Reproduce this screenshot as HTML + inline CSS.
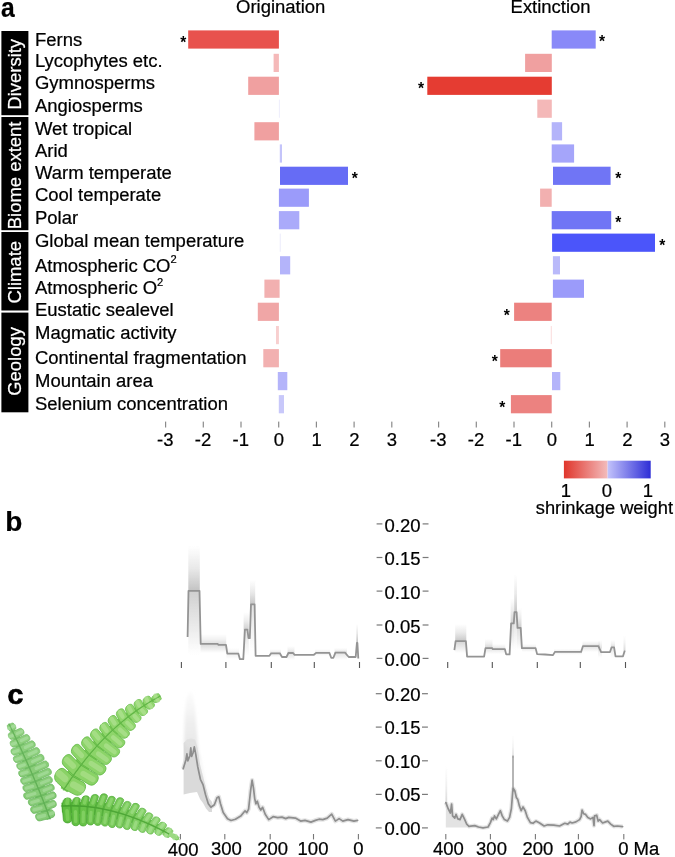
<!DOCTYPE html>
<html lang="en"><head><meta charset="utf-8"><title>Figure</title>
<style>
html,body{margin:0;padding:0;background:#fff;}
body{width:675px;height:857px;overflow:hidden;}
svg{display:block;}
text{font-family:"Liberation Sans",Arial,Helvetica,sans-serif;fill:#000;stroke:#000;stroke-width:0.22px;}
.b{font-weight:bold;}
</style></head><body>
<svg width="675" height="857" viewBox="0 0 675 857">
<defs>
<linearGradient id="lgR" x1="0" x2="1" y1="0" y2="0"><stop offset="0" stop-color="#e0362c"/><stop offset="1" stop-color="#f3bcbc"/></linearGradient>
<linearGradient id="lgB" x1="0" x2="1" y1="0" y2="0"><stop offset="0" stop-color="#c3c3fb"/><stop offset="1" stop-color="#2e2ed6"/></linearGradient>
<linearGradient id="fadeUp" x1="0" x2="0" y1="0" y2="1"><stop offset="0" stop-color="#b4b4b4" stop-opacity="0"/><stop offset="0.5" stop-color="#b4b4b4" stop-opacity="0.35"/><stop offset="1" stop-color="#b0b0b0" stop-opacity="0.9"/></linearGradient>
<linearGradient id="fadeDn" x1="0" x2="0" y1="0" y2="1"><stop offset="0" stop-color="#bcbcbc" stop-opacity="0.9"/><stop offset="0.6" stop-color="#c4c4c4" stop-opacity="0.4"/><stop offset="1" stop-color="#c8c8c8" stop-opacity="0"/></linearGradient>
<filter id="bl1" x="-20%" y="-20%" width="140%" height="140%"><feGaussianBlur stdDeviation="0.7"/></filter>
<filter id="bl2" x="-20%" y="-20%" width="140%" height="140%"><feGaussianBlur stdDeviation="1.4"/></filter>
<filter id="bl0" x="-5%" y="-5%" width="110%" height="110%"><feGaussianBlur stdDeviation="0.35"/></filter>
<linearGradient id="upL" x1="0" x2="0" y1="0" y2="1"><stop offset="0" stop-color="#e4e4e4" stop-opacity="0.1"/><stop offset="0.45" stop-color="#e4e4e4" stop-opacity="0.6"/><stop offset="1" stop-color="#e0e0e0" stop-opacity="0.95"/></linearGradient>
</defs>
<g id="panel-a">
<text class="b" transform="translate(0.9 16.8) scale(0.9 1)" font-size="27.4">a</text>
<text transform="translate(280.7 13.3) scale(1.05 1)" font-size="17.6" text-anchor="middle">Origination</text>
<text transform="translate(550.6 13.3) scale(1.05 1)" font-size="17.6" text-anchor="middle">Extinction</text>
<rect x="1.4" y="31" width="27" height="84.2" fill="#000"/>
<text transform="translate(21.1 74.3) rotate(-90) scale(1.05 1)" font-size="17.6" text-anchor="middle" style="fill:#fff;stroke:#fff">Diversity</text>
<rect x="1.4" y="117" width="27" height="113.2" fill="#000"/>
<text transform="translate(21.1 175.4) rotate(-90) scale(1.05 1)" font-size="17.6" text-anchor="middle" style="fill:#fff;stroke:#fff">Biome extent</text>
<rect x="1.4" y="232" width="27" height="78.5" fill="#000"/>
<text transform="translate(21.1 272.25) rotate(-90) scale(1.05 1)" font-size="17.6" text-anchor="middle" style="fill:#fff;stroke:#fff">Climate</text>
<rect x="1.4" y="312.6" width="27" height="99.7" fill="#000"/>
<text transform="translate(21.1 361.45) rotate(-90) scale(1.05 1)" font-size="17.6" text-anchor="middle" style="fill:#fff;stroke:#fff">Geology</text>
<text transform="translate(35 45.7) scale(1.05 1)" font-size="17.6">Ferns</text>
<text transform="translate(35 66.8) scale(1.05 1)" font-size="17.6">Lycophytes etc.</text>
<text transform="translate(35 89.3) scale(1.05 1)" font-size="17.6">Gymnosperms</text>
<text transform="translate(35 112.4) scale(1.05 1)" font-size="17.6">Angiosperms</text>
<text transform="translate(35 134.7) scale(1.05 1)" font-size="17.6">Wet tropical</text>
<text transform="translate(35 157.2) scale(1.05 1)" font-size="17.6">Arid</text>
<text transform="translate(35 179.1) scale(1.05 1)" font-size="17.6">Warm temperate</text>
<text transform="translate(35 201.3) scale(1.05 1)" font-size="17.6">Cool temperate</text>
<text transform="translate(35 224.2) scale(1.05 1)" font-size="17.6">Polar</text>
<text transform="translate(35 247.2) scale(1.05 1)" font-size="17.6">Global mean temperature</text>
<text transform="translate(35 271.8) scale(1.05 1)" font-size="17.6">Atmospheric CO<tspan dy="-8.4" font-size="10.6">2</tspan></text>
<text transform="translate(35 293.9) scale(1.05 1)" font-size="17.6">Atmospheric O<tspan dy="-8.4" font-size="10.6">2</tspan></text>
<text transform="translate(35 316.2) scale(1.05 1)" font-size="17.6">Eustatic sealevel</text>
<text transform="translate(35 339.1) scale(1.05 1)" font-size="17.6">Magmatic activity</text>
<text transform="translate(35 363.7) scale(1.05 1)" font-size="17.6">Continental fragmentation</text>
<text transform="translate(35 386.8) scale(1.05 1)" font-size="17.6">Mountain area</text>
<text transform="translate(35 409.6) scale(1.05 1)" font-size="17.6">Selenium concentration</text>
<rect x="188.2" y="30.4" width="90.7" height="18.2" fill="#e8524d"/>
<rect x="273.6" y="53.8" width="5.3" height="18.2" fill="#f5b9b9"/>
<rect x="248.2" y="76.7" width="30.7" height="18.2" fill="#f0a0a0"/>
<rect x="278.9" y="99.6" width="0.8" height="18.2" fill="#e9e9fb"/>
<rect x="254.4" y="122.2" width="24.5" height="18.2" fill="#f0a0a0"/>
<rect x="279.8" y="144.4" width="2.2" height="18.2" fill="#c4c4fa"/>
<rect x="280" y="166.7" width="68" height="18.2" fill="#666cf5"/>
<rect x="278.9" y="188.6" width="30" height="18.2" fill="#9b9bfa"/>
<rect x="278.9" y="211.1" width="20.4" height="18.2" fill="#aaaafa"/>
<rect x="279.8" y="233.6" width="0.8" height="18.2" fill="#e6e6fb"/>
<rect x="280" y="256.2" width="10.2" height="18.2" fill="#b4b4fa"/>
<rect x="264.4" y="279.6" width="15.2" height="18.2" fill="#f2b0b0"/>
<rect x="257.8" y="302.7" width="21.1" height="18.2" fill="#f0a6a6"/>
<rect x="276" y="326" width="2.9" height="18.2" fill="#f8cfcf"/>
<rect x="263.3" y="349.1" width="15.6" height="18.2" fill="#f2b0b0"/>
<rect x="277.8" y="372" width="9.5" height="18.2" fill="#b4b4fa"/>
<rect x="278.8" y="395.1" width="5.2" height="18.2" fill="#c8c8fa"/>
<rect x="551.7" y="30.4" width="44" height="18.2" fill="#8989f8"/>
<rect x="525.1" y="53.8" width="26.7" height="18.2" fill="#f0a0a0"/>
<rect x="427.3" y="76.7" width="124.5" height="18.2" fill="#e53c32"/>
<rect x="537.3" y="99.6" width="14.5" height="18.2" fill="#f4b8b8"/>
<rect x="551.7" y="122.2" width="10.4" height="18.2" fill="#b4b4fa"/>
<rect x="551.7" y="144.4" width="22.4" height="18.2" fill="#a5a5fa"/>
<rect x="553" y="166.7" width="57.6" height="18.2" fill="#7075f5"/>
<rect x="540.1" y="188.6" width="11.6" height="18.2" fill="#f2b0b0"/>
<rect x="551.7" y="211.1" width="59.5" height="18.2" fill="#7075f5"/>
<rect x="552.1" y="233.6" width="102.9" height="18.2" fill="#4b55fa"/>
<rect x="552.9" y="256.2" width="7.1" height="18.2" fill="#b9b9fa"/>
<rect x="552.9" y="279.6" width="31.1" height="18.2" fill="#9b9bfa"/>
<rect x="514.1" y="302.7" width="37.6" height="18.2" fill="#ec8280"/>
<rect x="550.8" y="326" width="0.9" height="18.2" fill="#fad7d7"/>
<rect x="500.2" y="349.1" width="51.5" height="18.2" fill="#eb7d7a"/>
<rect x="552" y="372" width="8.3" height="18.2" fill="#b4b4fa"/>
<rect x="510.9" y="395.1" width="40.8" height="18.2" fill="#ec8280"/>
<text class="b" x="183.3" y="47.5" font-size="15.6" text-anchor="middle" style="stroke:none">*</text>
<text class="b" x="354.9" y="184" font-size="15.6" text-anchor="middle" style="stroke:none">*</text>
<text class="b" x="602" y="47.2" font-size="15.6" text-anchor="middle" style="stroke:none">*</text>
<text class="b" x="421.1" y="93.6" font-size="15.6" text-anchor="middle" style="stroke:none">*</text>
<text class="b" x="618.3" y="184" font-size="15.6" text-anchor="middle" style="stroke:none">*</text>
<text class="b" x="618.3" y="228" font-size="15.6" text-anchor="middle" style="stroke:none">*</text>
<text class="b" x="662.3" y="251.2" font-size="15.6" text-anchor="middle" style="stroke:none">*</text>
<text class="b" x="506.7" y="320.5" font-size="15.6" text-anchor="middle" style="stroke:none">*</text>
<text class="b" x="494.9" y="367.3" font-size="15.6" text-anchor="middle" style="stroke:none">*</text>
<text class="b" x="502.3" y="413.2" font-size="15.6" text-anchor="middle" style="stroke:none">*</text>
<rect x="165" y="421.6" width="1.2" height="5.9" fill="#8a8a8a"/>
<text transform="translate(165.3 446.2) scale(1.05 1)" font-size="17.6" text-anchor="middle">-3</text>
<rect x="202.7" y="421.6" width="1.2" height="5.9" fill="#8a8a8a"/>
<text transform="translate(203 446.2) scale(1.05 1)" font-size="17.6" text-anchor="middle">-2</text>
<rect x="240.4" y="421.6" width="1.2" height="5.9" fill="#8a8a8a"/>
<text transform="translate(240.7 446.2) scale(1.05 1)" font-size="17.6" text-anchor="middle">-1</text>
<rect x="278.1" y="421.6" width="1.2" height="5.9" fill="#8a8a8a"/>
<text transform="translate(278.9 446.2) scale(1.05 1)" font-size="17.6" text-anchor="middle">0</text>
<rect x="315.8" y="421.6" width="1.2" height="5.9" fill="#8a8a8a"/>
<text transform="translate(316.6 446.2) scale(1.05 1)" font-size="17.6" text-anchor="middle">1</text>
<rect x="353.5" y="421.6" width="1.2" height="5.9" fill="#8a8a8a"/>
<text transform="translate(354.3 446.2) scale(1.05 1)" font-size="17.6" text-anchor="middle">2</text>
<rect x="391.2" y="421.6" width="1.2" height="5.9" fill="#8a8a8a"/>
<text transform="translate(392 446.2) scale(1.05 1)" font-size="17.6" text-anchor="middle">3</text>
<rect x="438" y="421.6" width="1.2" height="5.9" fill="#8a8a8a"/>
<text transform="translate(438.3 446.2) scale(1.05 1)" font-size="17.6" text-anchor="middle">-3</text>
<rect x="475.7" y="421.6" width="1.2" height="5.9" fill="#8a8a8a"/>
<text transform="translate(476 446.2) scale(1.05 1)" font-size="17.6" text-anchor="middle">-2</text>
<rect x="513.4" y="421.6" width="1.2" height="5.9" fill="#8a8a8a"/>
<text transform="translate(513.7 446.2) scale(1.05 1)" font-size="17.6" text-anchor="middle">-1</text>
<rect x="551.1" y="421.6" width="1.2" height="5.9" fill="#8a8a8a"/>
<text transform="translate(551.9 446.2) scale(1.05 1)" font-size="17.6" text-anchor="middle">0</text>
<rect x="588.8" y="421.6" width="1.2" height="5.9" fill="#8a8a8a"/>
<text transform="translate(589.6 446.2) scale(1.05 1)" font-size="17.6" text-anchor="middle">1</text>
<rect x="626.5" y="421.6" width="1.2" height="5.9" fill="#8a8a8a"/>
<text transform="translate(627.3 446.2) scale(1.05 1)" font-size="17.6" text-anchor="middle">2</text>
<rect x="664.2" y="421.6" width="1.2" height="5.9" fill="#8a8a8a"/>
<text transform="translate(665 446.2) scale(1.05 1)" font-size="17.6" text-anchor="middle">3</text>
</g>
<g id="legend">
<rect x="563.9" y="460.7" width="43.7" height="17.7" fill="url(#lgR)"/>
<rect x="607.6" y="460.7" width="43.1" height="17.7" fill="url(#lgB)"/>
<text transform="translate(565.9 496.9) scale(1.05 1)" font-size="17.6" text-anchor="middle">1</text>
<text transform="translate(607 496.9) scale(1.05 1)" font-size="17.6" text-anchor="middle">0</text>
<text transform="translate(647.8 496.9) scale(1.05 1)" font-size="17.6" text-anchor="middle">1</text>
<text transform="translate(604.4 513.6) scale(1.04 1)" font-size="17.6" text-anchor="middle">shrinkage weight</text>
</g>
<g id="panel-b">
<text class="b" x="5.2" y="531.4" font-size="28">b</text>
<rect x="376.6" y="523.3" width="5.8" height="1.2" fill="#7a7a7a"/>
<rect x="422.6" y="523.3" width="5.9" height="1.2" fill="#7a7a7a"/>
<text transform="translate(402.5 531.5) scale(1.05 1)" font-size="17.6" text-anchor="middle">0.20</text>
<rect x="376.6" y="556.9" width="5.8" height="1.2" fill="#7a7a7a"/>
<rect x="422.6" y="556.9" width="5.9" height="1.2" fill="#7a7a7a"/>
<text transform="translate(402.5 565.1) scale(1.05 1)" font-size="17.6" text-anchor="middle">0.15</text>
<rect x="376.6" y="590.5" width="5.8" height="1.2" fill="#7a7a7a"/>
<rect x="422.6" y="590.5" width="5.9" height="1.2" fill="#7a7a7a"/>
<text transform="translate(402.5 598.7) scale(1.05 1)" font-size="17.6" text-anchor="middle">0.10</text>
<rect x="376.6" y="624.4" width="5.8" height="1.2" fill="#7a7a7a"/>
<rect x="422.6" y="624.4" width="5.9" height="1.2" fill="#7a7a7a"/>
<text transform="translate(402.5 632.6) scale(1.05 1)" font-size="17.6" text-anchor="middle">0.05</text>
<rect x="376.6" y="657.8" width="5.8" height="1.2" fill="#7a7a7a"/>
<rect x="422.6" y="657.8" width="5.9" height="1.2" fill="#7a7a7a"/>
<text transform="translate(402.5 666) scale(1.05 1)" font-size="17.6" text-anchor="middle">0.00</text>
<rect x="180.85" y="662" width="1.1" height="6" fill="#555"/>
<rect x="225.35" y="662" width="1.1" height="6" fill="#555"/>
<rect x="270.75" y="662" width="1.1" height="6" fill="#555"/>
<rect x="313.75" y="662" width="1.1" height="6" fill="#555"/>
<rect x="358.95" y="662" width="1.1" height="6" fill="#555"/>
<rect x="447.15" y="662" width="1.1" height="6" fill="#555"/>
<rect x="491.75" y="662" width="1.1" height="6" fill="#555"/>
<rect x="536.75" y="662" width="1.1" height="6" fill="#555"/>
<rect x="579.75" y="662" width="1.1" height="6" fill="#555"/>
<rect x="624.95" y="662" width="1.1" height="6" fill="#555"/>
<g filter="url(#bl1)">
<rect x="188.3" y="546" width="11.5" height="44.8" fill="url(#fadeUp)" opacity="0.85"/>
<rect x="188.3" y="590.8" width="11.5" height="64.2" fill="url(#fadeDn)" opacity="0.8"/>
<rect x="200.5" y="634" width="25.7" height="10.5" fill="url(#fadeUp)" opacity="0.5"/>
<rect x="200.5" y="644.5" width="25.7" height="8.5" fill="url(#fadeDn)" opacity="0.6"/>
<rect x="226.5" y="648" width="12.5" height="5.7" fill="url(#fadeUp)" opacity="0.3"/>
<rect x="226.5" y="653.7" width="12.5" height="5.3" fill="url(#fadeDn)" opacity="0.3"/>
<rect x="243.6" y="612" width="5.2" height="18" fill="url(#fadeUp)" opacity="0.7"/>
<rect x="243.6" y="630" width="5.2" height="26" fill="url(#fadeDn)" opacity="0.5"/>
<rect x="250" y="580" width="5.2" height="24.3" fill="url(#fadeUp)" opacity="0.8"/>
<rect x="250" y="604.3" width="5.2" height="47.7" fill="url(#fadeDn)" opacity="0.5"/>
<rect x="270" y="649" width="11" height="4.3" fill="url(#fadeUp)" opacity="0.4"/>
<rect x="270" y="653.3" width="11" height="3.7" fill="url(#fadeDn)" opacity="0.4"/>
<rect x="287.5" y="646" width="7" height="7" fill="url(#fadeUp)" opacity="0.5"/>
<rect x="287.5" y="653" width="7" height="7" fill="url(#fadeDn)" opacity="0.5"/>
<rect x="315" y="649" width="15" height="3.9" fill="url(#fadeUp)" opacity="0.3"/>
<rect x="315" y="652.9" width="15" height="3.1" fill="url(#fadeDn)" opacity="0.3"/>
<rect x="334.5" y="648" width="12.5" height="4.6" fill="url(#fadeUp)" opacity="0.5"/>
<rect x="334.5" y="652.6" width="12.5" height="7.4" fill="url(#fadeDn)" opacity="0.5"/>
<rect x="356.3" y="624" width="1.7" height="19" fill="url(#fadeUp)" opacity="0.9"/>
<rect x="356.3" y="643" width="1.7" height="15" fill="url(#fadeDn)" opacity="0.3"/>
<rect x="455.2" y="624" width="11.1" height="17.2" fill="url(#fadeUp)" opacity="0.8"/>
<rect x="455.2" y="641.2" width="11.1" height="11.8" fill="url(#fadeDn)" opacity="0.7"/>
<rect x="485" y="639" width="7.5" height="9.1" fill="url(#fadeUp)" opacity="0.6"/>
<rect x="485" y="648.1" width="7.5" height="5.9" fill="url(#fadeDn)" opacity="0.5"/>
<rect x="492.5" y="644" width="12.8" height="5.2" fill="url(#fadeUp)" opacity="0.5"/>
<rect x="492.5" y="649.2" width="12.8" height="4.8" fill="url(#fadeDn)" opacity="0.4"/>
<rect x="510.6" y="598" width="3.6" height="25.4" fill="url(#fadeUp)" opacity="0.7"/>
<rect x="510.6" y="623.4" width="3.6" height="26.6" fill="url(#fadeDn)" opacity="0.6"/>
<rect x="514.2" y="575" width="2.8" height="37.1" fill="url(#fadeUp)" opacity="0.8"/>
<rect x="514.2" y="612.1" width="2.8" height="37.9" fill="url(#fadeDn)" opacity="0.6"/>
<rect x="517" y="608" width="4.5" height="19.9" fill="url(#fadeUp)" opacity="0.7"/>
<rect x="517" y="627.9" width="4.5" height="22.1" fill="url(#fadeDn)" opacity="0.6"/>
<rect x="522" y="644" width="14" height="4.1" fill="url(#fadeUp)" opacity="0.4"/>
<rect x="522" y="648.1" width="14" height="3.9" fill="url(#fadeDn)" opacity="0.4"/>
<rect x="554" y="648.5" width="28" height="3.4" fill="url(#fadeUp)" opacity="0.3"/>
<rect x="554" y="651.9" width="28" height="3.1" fill="url(#fadeDn)" opacity="0.3"/>
<rect x="582.5" y="641" width="17.5" height="5.2" fill="url(#fadeUp)" opacity="0.5"/>
<rect x="582.5" y="646.2" width="17.5" height="5.8" fill="url(#fadeDn)" opacity="0.5"/>
<rect x="598" y="640" width="4" height="8" fill="url(#fadeUp)" opacity="0.4"/>
<rect x="598" y="648" width="4" height="10" fill="url(#fadeDn)" opacity="0.4"/>
<rect x="610.8" y="640" width="4.2" height="7.4" fill="url(#fadeUp)" opacity="0.5"/>
<rect x="610.8" y="647.4" width="4.2" height="10.6" fill="url(#fadeDn)" opacity="0.4"/>
<rect x="623.5" y="636" width="2" height="14" fill="url(#fadeUp)" opacity="0.5"/>
<rect x="623.5" y="650" width="2" height="6" fill="url(#fadeDn)" opacity="0.3"/>
</g>
<path d="M187.6 637 L188.5 590.8 L199.5 590.8 L200.7 643.9 L217.8 643.9 L218.5 644.9 L226 644.9 L227.3 653.7 L238.4 653.7 L239.9 659.2 L243.3 659.2 L244.9 629.7 L247.4 629.7 L248.5 638.2 L249.8 638.2 L251 604.3 L254.6 604.3 L255.6 655.8 L269.4 655.8 L271.2 653.3 L279.8 653.3 L282 657 L286.5 657 L288.4 653 L293.1 653 L294.6 654.8 L313.9 654.8 L316.1 652.9 L329.4 652.9 L331.2 657.8 L333.4 657.8 L335.4 652.6 L345 652.6 L348.7 657 L355.7 657 L356.9 643 L357.4 643 L358.3 658.5" fill="none" stroke="#949494" stroke-width="1.8" stroke-linejoin="round" filter="url(#bl0)"/>
<path d="M454.4 650.1 L455.6 641.2 L465.9 641.2 L467.1 656.6 L484.1 656.6 L485.5 648.1 L492.1 648.1 L492.8 649.2 L504.9 649.2 L506.2 654.4 L509.6 654.4 L511.1 623.4 L513.8 623.4 L514.5 612.1 L516.6 612.1 L517.5 627.9 L520.7 627.9 L521.9 648.1 L535.6 648.1 L537.1 654.1 L545 654.5 L553 655.1 L554.9 651.9 L581.1 651.9 L582.9 646.2 L598.4 646.2 L601.1 652.1 L610 652.1 L611.5 647.4 L614.1 647.4 L615.5 656.3 L623 656.3 L624.8 650.4" fill="none" stroke="#949494" stroke-width="1.8" stroke-linejoin="round" filter="url(#bl0)"/>
</g>
<g id="panel-c">
<text class="b" x="7.6" y="704.2" font-size="28.5" style="stroke-width:0.7px">c</text>
<rect x="375.8" y="693.1" width="5.9" height="1.2" fill="#7a7a7a"/>
<rect x="422" y="693.1" width="5.9" height="1.2" fill="#7a7a7a"/>
<text transform="translate(402.5 700.7) scale(1.05 1)" font-size="17.6" text-anchor="middle">0.20</text>
<rect x="375.8" y="726.5" width="5.9" height="1.2" fill="#7a7a7a"/>
<rect x="422" y="726.5" width="5.9" height="1.2" fill="#7a7a7a"/>
<text transform="translate(402.5 734.1) scale(1.05 1)" font-size="17.6" text-anchor="middle">0.15</text>
<rect x="375.8" y="760.2" width="5.9" height="1.2" fill="#7a7a7a"/>
<rect x="422" y="760.2" width="5.9" height="1.2" fill="#7a7a7a"/>
<text transform="translate(402.5 767.8) scale(1.05 1)" font-size="17.6" text-anchor="middle">0.10</text>
<rect x="375.8" y="793.8" width="5.9" height="1.2" fill="#7a7a7a"/>
<rect x="422" y="793.8" width="5.9" height="1.2" fill="#7a7a7a"/>
<text transform="translate(402.5 801.4) scale(1.05 1)" font-size="17.6" text-anchor="middle">0.05</text>
<rect x="375.8" y="827.3" width="5.9" height="1.2" fill="#7a7a7a"/>
<rect x="422" y="827.3" width="5.9" height="1.2" fill="#7a7a7a"/>
<text transform="translate(402.5 834.9) scale(1.05 1)" font-size="17.6" text-anchor="middle">0.00</text>
<rect x="179.85" y="834" width="1.1" height="5.4" fill="#777"/>
<rect x="224.25" y="834" width="1.1" height="5.4" fill="#777"/>
<rect x="269.65" y="834" width="1.1" height="5.4" fill="#777"/>
<rect x="312.95" y="834" width="1.1" height="5.4" fill="#777"/>
<rect x="357.85" y="834" width="1.1" height="5.4" fill="#777"/>
<rect x="445.25" y="834" width="1.1" height="5.4" fill="#777"/>
<rect x="489.85" y="834" width="1.1" height="5.4" fill="#777"/>
<rect x="534.85" y="834" width="1.1" height="5.4" fill="#777"/>
<rect x="577.85" y="834" width="1.1" height="5.4" fill="#777"/>
<rect x="623.25" y="834" width="1.1" height="5.4" fill="#777"/>
<text transform="translate(183.2 855.8) scale(1.05 1)" font-size="17.6" text-anchor="middle">400</text>
<text transform="translate(226.3 854.6) scale(1.05 1)" font-size="17.6" text-anchor="middle">300</text>
<text transform="translate(272.6 854.6) scale(1.05 1)" font-size="17.6" text-anchor="middle">200</text>
<text transform="translate(313 854.6) scale(1.05 1)" font-size="17.6" text-anchor="middle">100</text>
<text transform="translate(358.4 854.6) scale(1.05 1)" font-size="17.6" text-anchor="middle">0</text>
<text transform="translate(448.3 854.9) scale(1.05 1)" font-size="17.6" text-anchor="middle">400</text>
<text transform="translate(491.5 854.7) scale(1.05 1)" font-size="17.6" text-anchor="middle">300</text>
<text transform="translate(537.8 854.7) scale(1.05 1)" font-size="17.6" text-anchor="middle">200</text>
<text transform="translate(578.6 854.7) scale(1.05 1)" font-size="17.6" text-anchor="middle">100</text>
<text transform="translate(618.2 854.7) scale(1.05 1)" font-size="17.6">0 Ma</text>
<polyline points="183.2,768.8 185.9,760 186.9,753.9 187.8,760.9 189.9,755.7 190.8,747.8 191.6,756.5 193,753 194.3,746.9 195.7,753.9 197.8,767 200.4,779.3 203,784.6 205.6,795 208.3,803.8 210.9,807.3 214.4,804.7 217,797.7 218.8,796.8 220.5,803.8 223.2,812.6 227.5,818.7 231,820.5 235.4,819.2 240.7,816.1 245.1,810.8 246.8,812.6 248.6,809.1 250.7,789.8 252.1,780.2 253.5,788.1 254.7,798.6 255.9,803.8 257.3,801.2 259.1,807.3 260.8,810 262.6,807.3 265.2,814.3 268.7,819.6 273.1,816.7 277.6,817.7 282,817.1 285.7,818.6 288.7,817.4 295.4,818.1 300.6,821.1 305,820.4 310.9,822.1 315.4,820.4 319.1,819.2 322.8,819.6 327.2,818.1 331.7,814.1 335.4,821.1 339.1,818.6 342.8,821.1 348,819.6 353.9,821.1 357.6,820.4" fill="none" stroke="#d4d4d4" stroke-width="4.4" stroke-linejoin="round" stroke-linecap="butt" filter="url(#bl1)" opacity="0.6"/>
<polyline points="445.9,802.6 448.1,808.5 450.4,813 451.6,804.1 452.6,815.9 454.8,818.1 456,814.4 457.8,818.9 460,819.6 462.2,814.4 464.4,818.9 466.7,824.1 468.9,826.3 474.8,825.6 478.5,827 483,827.8 488.1,827 490.4,822.6 492.1,818.1 493.3,819.6 494.5,815.9 496.3,818.9 498.5,814.4 500.4,810.7 502.2,815.9 504.4,819.6 507.4,821.1 509.6,817.4 511.4,808.5 512.7,792 513.3,788.5 514.8,790.7 516.3,797.4 517.8,799.6 519.3,805.6 521.2,810.7 523,807 525.2,810.7 527.4,817.4 530.4,822.6 533,823.3 535.9,821.1 539.6,823 544.1,826 547.8,824.8 553.7,825.1 559.6,826 564.8,823.3 567.8,824.1 570,822.1 572.2,823 575.9,821.9 579.6,819.6 581.1,816.7 582.1,810 583.6,813.7 585.6,814.4 587.8,817.4 590.7,818.9 593,817.4 594,825.6 594.6,815.9 596.7,815.2 598.1,821.1 599.6,819.6 602.6,823 605.6,821.9 607.8,821.1 610.7,824.1 613.7,826.3 617.4,826 622.6,826.7" fill="none" stroke="#d4d4d4" stroke-width="4.2" stroke-linejoin="round" stroke-linecap="butt" filter="url(#bl1)" opacity="0.6"/>
<g filter="url(#bl1)">
<polygon points="183.6,743 187,739.5 191,738.5 195,739.5 197.5,748 200,764 203,776 206,788 209,798 212,802 212,812 209,812 206,808.5 203,803 200,799 197,792 190,793 183.6,794.5" fill="#d8d8d8" opacity="0.95"/>
</g>
<g filter="url(#bl2)">
<polygon points="184,744 184.6,716 186.5,698 189,692 192.5,692 195,708 196.6,728 198.2,750 199,760" fill="url(#upL)"/>
<polygon points="197,750 201,770 206,790 210,800 204,776 200,756" fill="#e6e6e6" opacity="0.6"/>
</g>
<g filter="url(#bl1)">
<polygon points="445.9,802.6 448.1,808.5 450.4,813 451.6,804.1 452.6,815.9 454.8,818.1 456,814.4 457.8,818.9 460,819.6 462.2,814.4 464.4,818.9 466.7,824.1 467.2,827.6 445.8,827.6" fill="#dedede" opacity="0.85"/>
<rect x="445.4" y="766" width="1.8" height="38" fill="url(#fadeUp)" opacity="0.55"/>
<rect x="512.2" y="736" width="1.6" height="22" fill="url(#fadeUp)" opacity="0.5"/>
</g>
<polyline points="183.2,768.8 185.9,760 186.9,753.9 187.8,760.9 189.9,755.7 190.8,747.8 191.6,756.5 193,753 194.3,746.9 195.7,753.9 197.8,767 200.4,779.3 203,784.6 205.6,795 208.3,803.8 210.9,807.3 214.4,804.7 217,797.7 218.8,796.8 220.5,803.8 223.2,812.6 227.5,818.7 231,820.5 235.4,819.2 240.7,816.1 245.1,810.8 246.8,812.6 248.6,809.1 250.7,789.8 252.1,780.2 253.5,788.1 254.7,798.6 255.9,803.8 257.3,801.2 259.1,807.3 260.8,810 262.6,807.3 265.2,814.3 268.7,819.6 273.1,816.7 277.6,817.7 282,817.1 285.7,818.6 288.7,817.4 295.4,818.1 300.6,821.1 305,820.4 310.9,822.1 315.4,820.4 319.1,819.2 322.8,819.6 327.2,818.1 331.7,814.1 335.4,821.1 339.1,818.6 342.8,821.1 348,819.6 353.9,821.1 357.6,820.4" fill="none" stroke="#8e8e8e" stroke-width="1.7" stroke-linejoin="round" stroke-linecap="round" filter="url(#bl0)"/>
<polyline points="445.9,802.6 448.1,808.5 450.4,813 451.6,804.1 452.6,815.9 454.8,818.1 456,814.4 457.8,818.9 460,819.6 462.2,814.4 464.4,818.9 466.7,824.1 468.9,826.3 474.8,825.6 478.5,827 483,827.8 488.1,827 490.4,822.6 492.1,818.1 493.3,819.6 494.5,815.9 496.3,818.9 498.5,814.4 500.4,810.7 502.2,815.9 504.4,819.6 507.4,821.1 509.6,817.4 511.4,808.5 512.7,792 513.3,788.5 514.8,790.7 516.3,797.4 517.8,799.6 519.3,805.6 521.2,810.7 523,807 525.2,810.7 527.4,817.4 530.4,822.6 533,823.3 535.9,821.1 539.6,823 544.1,826 547.8,824.8 553.7,825.1 559.6,826 564.8,823.3 567.8,824.1 570,822.1 572.2,823 575.9,821.9 579.6,819.6 581.1,816.7 582.1,810 583.6,813.7 585.6,814.4 587.8,817.4 590.7,818.9 593,817.4 594,825.6 594.6,815.9 596.7,815.2 598.1,821.1 599.6,819.6 602.6,823 605.6,821.9 607.8,821.1 610.7,824.1 613.7,826.3 617.4,826 622.6,826.7" fill="none" stroke="#8e8e8e" stroke-width="1.7" stroke-linejoin="round" stroke-linecap="round" filter="url(#bl0)"/>
<rect x="512.35" y="755.6" width="1.3" height="36" fill="#8e8e8e"/>
</g>
<g id="fern" filter="url(#bl0)">
<polygon points="51.13,818.6 51,816.26 50.85,813.9 50.63,811.55 50.35,809.2 50.05,806.83 49.74,804.44 49.15,802.14 48.56,799.82 47.95,797.48 47.32,795.13 46.68,792.76 46.03,790.38 45.25,788.03 44.39,785.69 43.51,783.34 42.62,780.97 41.71,778.59 40.8,776.2 39.86,773.79 38.92,771.37 37.96,768.94 36.89,766.53 35.69,764.16 34.47,761.78 33.24,759.39 31.99,756.99 30.73,754.57 29.46,752.14 28.17,749.7 26.87,747.24 25.51,744.79 23.97,742.41 22.41,740.02 20.84,737.62 19.25,735.21 17.66,732.78 15.84,730.44 13.87,728.16 11.89,725.86 9.9,723.56 8.46,724.26 9.35,727.1 10.23,729.92 11.1,732.73 11.99,735.5 12.94,738.22 13.87,740.93 14.78,743.62 15.69,746.29 16.58,748.95 17.6,751.53 18.66,754.07 19.69,756.6 20.72,759.11 21.73,761.61 22.73,764.09 23.71,766.56 24.68,769.02 25.63,771.46 26.55,773.9 27.44,776.33 28.31,778.74 29.17,781.14 30.01,783.53 30.84,785.9 31.66,788.25 32.46,790.59 33.25,792.92 34.1,795.2 35.05,797.42 35.99,799.62 36.91,801.81 37.82,803.99 38.72,806.16 39.6,808.31 40.51,810.43 41.55,812.48 42.58,814.53 43.59,816.56 45.29,818.32 46.99,820.08" fill="#7ac46d"/>
<path d="M49.76 818.34 L53.04 817.14 C56.53 815.86 53.58 808.63 50.36 809.8 L47.08 811 Z" fill="#85ca75" stroke="#63b358" stroke-width="0.8" stroke-linejoin="round"/>
<path d="M50.16 813.84 L53.02 812.79" stroke="#a3d998" stroke-width="3.51" stroke-linecap="round" fill="none" opacity="0.75"/>
<path d="M49.76 818.34 L40.2 820.79 C36.07 821.85 33.71 814.44 37.52 813.46 L47.08 811 Z" fill="#85ca75" stroke="#63b358" stroke-width="0.8" stroke-linejoin="round"/>
<path d="M44.55 815.47 L38.43 817.04" stroke="#a3d998" stroke-width="3.51" stroke-linecap="round" fill="none" opacity="0.75"/>
<path d="M46.74 810.08 L54.66 807.07 C58.26 805.7 55.47 799.2 52.15 800.47 L44.23 803.48 Z" fill="#86cb75" stroke="#65b459" stroke-width="0.8" stroke-linejoin="round"/>
<path d="M48.69 805.53 L53.82 803.57" stroke="#a4da99" stroke-width="3.18" stroke-linecap="round" fill="none" opacity="0.75"/>
<path d="M46.74 810.08 L34.87 813.29 C31.14 814.29 28.92 807.61 32.36 806.69 L44.23 803.48 Z" fill="#86cb75" stroke="#65b459" stroke-width="0.8" stroke-linejoin="round"/>
<path d="M41.06 807.94 L33.99 809.85" stroke="#a4da99" stroke-width="3.18" stroke-linecap="round" fill="none" opacity="0.75"/>
<path d="M43.89 802.6 L54.57 798.39 C58.07 797.02 55.28 790.73 52.06 792 L41.37 796.2 Z" fill="#86cb76" stroke="#66b55b" stroke-width="0.8" stroke-linejoin="round"/>
<path d="M46.64 797.81 L53.06 795.28" stroke="#a5da9a" stroke-width="3.09" stroke-linecap="round" fill="none" opacity="0.75"/>
<path d="M43.89 802.6 L32.49 805.81 C28.88 806.83 26.64 800.36 29.97 799.42 L41.37 796.2 Z" fill="#86cb76" stroke="#66b55b" stroke-width="0.8" stroke-linejoin="round"/>
<path d="M38.38 800.58 L31.57 802.5" stroke="#a5da9a" stroke-width="3.09" stroke-linecap="round" fill="none" opacity="0.75"/>
<path d="M41.03 795.34 L52.7 790.61 C56.15 789.21 53.33 783.01 50.15 784.3 L38.47 789.03 Z" fill="#87cc77" stroke="#68b65c" stroke-width="0.8" stroke-linejoin="round"/>
<path d="M44.05 790.44 L50.93 787.65" stroke="#a5db9a" stroke-width="3.06" stroke-linecap="round" fill="none" opacity="0.75"/>
<path d="M41.03 795.34 L27.81 799.21 C24.24 800.26 21.96 793.87 25.25 792.9 L38.47 789.03 Z" fill="#87cc77" stroke="#68b65c" stroke-width="0.8" stroke-linejoin="round"/>
<path d="M34.97 793.58 L27.31 795.83" stroke="#a5db9a" stroke-width="3.06" stroke-linecap="round" fill="none" opacity="0.75"/>
<path d="M38.12 788.17 L50.87 782.87 C54.29 781.45 51.42 775.29 48.26 776.61 L35.51 781.91 Z" fill="#88cc78" stroke="#69b75e" stroke-width="0.8" stroke-linejoin="round"/>
<path d="M41.44 783.12 L48.82 780.05" stroke="#a6db9b" stroke-width="3.05" stroke-linecap="round" fill="none" opacity="0.75"/>
<path d="M38.12 788.17 L27.08 791.52 C23.54 792.6 21.2 786.25 24.47 785.26 L35.51 781.91 Z" fill="#88cc78" stroke="#69b75e" stroke-width="0.8" stroke-linejoin="round"/>
<path d="M32.69 786.29 L26.09 788.3" stroke="#a6db9b" stroke-width="3.05" stroke-linecap="round" fill="none" opacity="0.75"/>
<path d="M35.15 781.06 L49.89 774.77 C53.3 773.32 50.38 767.18 47.22 768.52 L32.49 774.81 Z" fill="#89cd79" stroke="#6ab85f" stroke-width="0.8" stroke-linejoin="round"/>
<path d="M39.04 775.71 L47.37 772.16" stroke="#a6dc9c" stroke-width="3.06" stroke-linecap="round" fill="none" opacity="0.75"/>
<path d="M35.15 781.06 L24.85 784.28 C21.31 785.39 18.92 779.05 22.18 778.03 L32.49 774.81 Z" fill="#89cd79" stroke="#6ab85f" stroke-width="0.8" stroke-linejoin="round"/>
<path d="M29.92 779.15 L23.67 781.11" stroke="#a6dc9c" stroke-width="3.06" stroke-linecap="round" fill="none" opacity="0.75"/>
<path d="M32.12 773.95 L47.1 767.42 C50.52 765.93 47.53 759.79 44.37 761.16 L29.39 767.7 Z" fill="#8acd79" stroke="#6cb960" stroke-width="0.8" stroke-linejoin="round"/>
<path d="M36.05 768.52 L44.5 764.84" stroke="#a7dc9c" stroke-width="3.07" stroke-linecap="round" fill="none" opacity="0.75"/>
<path d="M32.12 773.95 L22.93 776.92 C19.38 778.06 16.92 771.72 20.2 770.66 L29.39 767.7 Z" fill="#8acd79" stroke="#6cb960" stroke-width="0.8" stroke-linejoin="round"/>
<path d="M27.19 771.98 L21.46 773.82" stroke="#a7dc9c" stroke-width="3.07" stroke-linecap="round" fill="none" opacity="0.75"/>
<path d="M29.02 766.84 L42.58 760.8 C46 759.27 42.95 753.12 39.79 754.53 L26.22 760.57 Z" fill="#8bce7a" stroke="#6dba61" stroke-width="0.8" stroke-linejoin="round"/>
<path d="M32.49 761.55 L40.26 758.08" stroke="#a7dd9d" stroke-width="3.09" stroke-linecap="round" fill="none" opacity="0.75"/>
<path d="M29.02 766.84 L21.07 769.47 C17.51 770.65 14.99 764.29 18.28 763.2 L26.22 760.57 Z" fill="#8bce7a" stroke="#6dba61" stroke-width="0.8" stroke-linejoin="round"/>
<path d="M24.42 764.77 L19.29 766.47" stroke="#a7dd9d" stroke-width="3.09" stroke-linecap="round" fill="none" opacity="0.75"/>
<path d="M25.84 759.72 L38.31 754.05 C41.74 752.49 38.62 746.31 35.44 747.76 L22.98 753.42 Z" fill="#8cce7b" stroke="#6ebb63" stroke-width="0.8" stroke-linejoin="round"/>
<path d="M28.95 754.51 L36.2 751.21" stroke="#a8dd9d" stroke-width="3.11" stroke-linecap="round" fill="none" opacity="0.75"/>
<path d="M25.84 759.72 L17.75 762.46 C14.18 763.67 11.59 757.28 14.89 756.16 L22.98 753.42 Z" fill="#8cce7b" stroke="#6ebb63" stroke-width="0.8" stroke-linejoin="round"/>
<path d="M21.16 757.68 L15.96 759.44" stroke="#a8dd9d" stroke-width="3.11" stroke-linecap="round" fill="none" opacity="0.75"/>
<path d="M22.58 752.56 L33.79 747.37 C37.25 745.77 34.05 739.57 30.87 741.05 L19.65 746.24 Z" fill="#8ccf7c" stroke="#70bc64" stroke-width="0.8" stroke-linejoin="round"/>
<path d="M25.28 747.48 L31.94 744.39" stroke="#a8de9e" stroke-width="3.14" stroke-linecap="round" fill="none" opacity="0.75"/>
<path d="M22.58 752.56 L15.46 755.04 C11.86 756.28 9.21 749.86 12.53 748.71 L19.65 746.24 Z" fill="#8ccf7c" stroke="#70bc64" stroke-width="0.8" stroke-linejoin="round"/>
<path d="M18.16 750.43 L13.41 752.08" stroke="#a8de9e" stroke-width="3.14" stroke-linecap="round" fill="none" opacity="0.75"/>
<path d="M19.25 745.38 L28.43 741.05 C31.9 739.41 28.63 733.18 25.43 734.69 L16.25 739.02 Z" fill="#8dcf7c" stroke="#71bd65" stroke-width="0.8" stroke-linejoin="round"/>
<path d="M21.31 740.52 L27 737.84" stroke="#a9de9f" stroke-width="3.16" stroke-linecap="round" fill="none" opacity="0.75"/>
<path d="M19.25 745.38 L14.68 746.99 C11.06 748.28 8.35 741.82 11.68 740.64 L16.25 739.02 Z" fill="#8dcf7c" stroke="#71bd65" stroke-width="0.8" stroke-linejoin="round"/>
<path d="M15.55 742.98 L12.02 744.23" stroke="#a9de9f" stroke-width="3.16" stroke-linecap="round" fill="none" opacity="0.75"/>
<path d="M15.84 738.15 L22.51 734.95 C26 733.27 22.67 727.01 19.45 728.55 L12.77 731.75 Z" fill="#8ecf7d" stroke="#72be66" stroke-width="0.8" stroke-linejoin="round"/>
<path d="M17.12 733.61 L21.61 731.45" stroke="#a9de9f" stroke-width="3.19" stroke-linecap="round" fill="none" opacity="0.75"/>
<path d="M15.84 738.15 L12.72 739.28 C9.4 740.48 6.59 733.99 9.65 732.88 L12.77 731.75 Z" fill="#8ecf7d" stroke="#72be66" stroke-width="0.8" stroke-linejoin="round"/>
<path d="M12.61 735.57 L9.89 736.55" stroke="#a9de9f" stroke-width="3.19" stroke-linecap="round" fill="none" opacity="0.75"/>
<path d="M12.35 730.88 L14.86 729.66 C17.53 728.36 14.19 722.02 11.72 723.22 L9.22 724.44 Z" fill="#8fd07e" stroke="#73bf67" stroke-width="0.8" stroke-linejoin="round"/>
<path d="M12.16 727 L14.35 725.93" stroke="#aadfa0" stroke-width="3.22" stroke-linecap="round" fill="none" opacity="0.75"/>
<path d="M12.35 730.88 L10.87 731.42 C9.29 732 6.28 725.52 7.73 724.99 L9.22 724.44 Z" fill="#8fd07e" stroke="#73bf67" stroke-width="0.8" stroke-linejoin="round"/>
<path d="M9.98 727.96 L8.69 728.44" stroke="#aadfa0" stroke-width="3.22" stroke-linecap="round" fill="none" opacity="0.75"/>
<path d="M50 819 Q35 777 9 724" stroke="#5aa94f" stroke-width="1.4" fill="none" opacity="0.55" stroke-linecap="round"/>
<polygon points="67.21,792.37 70.23,789.8 73.25,787.3 76.14,784.78 78.55,781.98 80.97,779.23 83.4,776.53 85.66,773.75 87.82,770.93 90,768.16 92.19,765.43 94.4,762.75 96.62,760.11 98.71,757.4 100.83,754.73 102.96,752.11 105.11,749.52 107.28,746.98 109.41,744.42 111.47,741.83 113.57,739.27 115.68,736.75 117.81,734.27 119.97,731.82 122.19,729.46 124.45,727.16 126.72,724.89 129.02,722.66 131.34,720.47 133.68,718.32 136.04,716.2 138.42,714.12 140.83,712.08 143.26,710.08 145.71,708.12 148.18,706.2 150.68,704.32 153.16,702.4 155.67,700.52 158.2,698.68 160.76,696.89 159.93,695.29 156.89,696.27 153.85,697.3 150.85,698.45 148.01,699.9 145.18,701.4 142.37,702.96 139.57,704.55 136.76,706.17 133.96,707.85 131.18,709.57 128.41,711.34 125.65,713.16 122.93,715.05 120.3,717.09 117.69,719.18 115.09,721.32 112.51,723.5 109.95,725.73 107.4,727.99 104.83,730.28 102.28,732.61 99.75,734.98 97.23,737.41 94.73,739.88 92.24,742.39 89.7,744.9 87.19,747.46 84.68,750.06 82.2,752.72 79.72,755.42 77.3,758.2 75.01,761.12 72.74,764.08 70.49,767.09 68.25,770.14 66.04,773.24 64.27,776.67 62.81,780.33 61.79,784.29 60.8,788.28" fill="#79c959"/>
<path d="M64.17 788.96 L74.66 794.6 C81.9 798.5 89.74 785.7 83.06 782.11 L72.57 776.46 Z" fill="#89d265" stroke="#59b33d" stroke-width="0.8" stroke-linejoin="round"/>
<path d="M73.43 784.79 L81.14 788.94" stroke="#a9de89" stroke-width="6.77" stroke-linecap="round" fill="none" opacity="0.75"/>
<path d="M64.17 788.96 L56.66 782.07 C50.6 776.51 59.46 764.45 65.05 769.57 L72.57 776.46 Z" fill="#89d265" stroke="#59b33d" stroke-width="0.8" stroke-linejoin="round"/>
<path d="M64.96 778.85 L59.12 773.5" stroke="#a9de89" stroke-width="6.77" stroke-linecap="round" fill="none" opacity="0.75"/>
<path d="M73.42 775.26 L88.93 784.48 C94.8 787.96 101.77 777.64 96.35 774.42 L80.84 765.2 Z" fill="#8ad366" stroke="#5bb43f" stroke-width="0.8" stroke-linejoin="round"/>
<path d="M83.18 773.64 L92.79 779.35" stroke="#aadf8a" stroke-width="5.62" stroke-linecap="round" fill="none" opacity="0.75"/>
<path d="M73.42 775.26 L63.82 765.68 C59 760.85 66.79 751.17 71.24 755.62 L80.84 765.2 Z" fill="#8ad366" stroke="#5bb43f" stroke-width="0.8" stroke-linejoin="round"/>
<path d="M73.18 766.08 L66.79 759.7" stroke="#aadf8a" stroke-width="5.62" stroke-linecap="round" fill="none" opacity="0.75"/>
<path d="M81.64 764.15 L97.18 774.27 C102.42 777.68 109.18 768.5 104.35 765.35 L88.81 755.23 Z" fill="#8bd468" stroke="#5db641" stroke-width="0.8" stroke-linejoin="round"/>
<path d="M91.12 763.41 L100.51 769.53" stroke="#abdf8c" stroke-width="5.15" stroke-linecap="round" fill="none" opacity="0.75"/>
<path d="M81.64 764.15 L72.62 754.37 C68.39 749.77 75.88 741.2 79.79 745.44 L88.81 755.23 Z" fill="#8bd468" stroke="#5db641" stroke-width="0.8" stroke-linejoin="round"/>
<path d="M81.56 755.59 L75.67 749.2" stroke="#abdf8c" stroke-width="5.15" stroke-linecap="round" fill="none" opacity="0.75"/>
<path d="M89.6 754.29 L102.97 763.8 C107.75 767.2 114.45 758.85 110.04 755.71 L96.67 746.2 Z" fill="#8cd469" stroke="#5fb742" stroke-width="0.8" stroke-linejoin="round"/>
<path d="M98.26 753.8 L106.44 759.62" stroke="#abdf8d" stroke-width="4.83" stroke-linecap="round" fill="none" opacity="0.75"/>
<path d="M89.6 754.29 L82.6 746.04 C78.81 741.57 86.17 733.82 89.67 737.95 L96.67 746.2 Z" fill="#8cd469" stroke="#5fb742" stroke-width="0.8" stroke-linejoin="round"/>
<path d="M90.17 746.65 L85.41 741.04" stroke="#abdf8d" stroke-width="4.83" stroke-linecap="round" fill="none" opacity="0.75"/>
<path d="M97.45 745.34 L111.37 756.14 C115.77 759.56 122.46 751.9 118.4 748.74 L104.48 737.94 Z" fill="#8dd56a" stroke="#60b844" stroke-width="0.8" stroke-linejoin="round"/>
<path d="M106.16 745.6 L114.47 752.04" stroke="#ace08e" stroke-width="4.59" stroke-linecap="round" fill="none" opacity="0.75"/>
<path d="M97.45 745.34 L91.34 737.5 C87.92 733.11 95.21 726.05 98.37 730.1 L104.48 737.94 Z" fill="#8dd56a" stroke="#60b844" stroke-width="0.8" stroke-linejoin="round"/>
<path d="M98.35 738.2 L94.15 732.82" stroke="#ace08e" stroke-width="4.59" stroke-linecap="round" fill="none" opacity="0.75"/>
<path d="M105.26 737.15 L116.72 746.85 C120.79 750.29 127.5 743.23 123.74 740.05 L112.28 730.35 Z" fill="#8ed56b" stroke="#62b945" stroke-width="0.8" stroke-linejoin="round"/>
<path d="M113.15 737.39 L120.15 743.32" stroke="#ade08f" stroke-width="4.4" stroke-linecap="round" fill="none" opacity="0.75"/>
<path d="M105.26 737.15 L100.48 730.45 C97.38 726.11 104.64 719.65 107.5 723.65 L112.28 730.35 Z" fill="#8ed56b" stroke="#62b945" stroke-width="0.8" stroke-linejoin="round"/>
<path d="M106.62 730.68 L103.18 725.86" stroke="#ade08f" stroke-width="4.4" stroke-linecap="round" fill="none" opacity="0.75"/>
<path d="M113.06 729.63 L121.45 737.36 C125.23 740.84 131.98 734.32 128.49 731.1 L120.1 723.38 Z" fill="#8fd56c" stroke="#64ba46" stroke-width="0.8" stroke-linejoin="round"/>
<path d="M119.97 729.57 L125.39 734.56" stroke="#aee090" stroke-width="4.24" stroke-linecap="round" fill="none" opacity="0.75"/>
<path d="M113.06 729.63 L108.76 723.02 C105.95 718.72 113.21 712.79 115.8 716.77 L120.1 723.38 Z" fill="#8fd56c" stroke="#64ba46" stroke-width="0.8" stroke-linejoin="round"/>
<path d="M114.64 723.47 L111.54 718.71" stroke="#aee090" stroke-width="4.24" stroke-linecap="round" fill="none" opacity="0.75"/>
<path d="M120.89 722.71 L127.56 729.41 C131.07 732.94 137.87 726.92 134.63 723.66 L127.96 716.95 Z" fill="#90d66d" stroke="#65bb48" stroke-width="0.8" stroke-linejoin="round"/>
<path d="M127.23 722.6 L131.73 727.12" stroke="#afe191" stroke-width="4.1" stroke-linecap="round" fill="none" opacity="0.75"/>
<path d="M120.89 722.71 L116.86 715.9 C114.33 711.62 121.59 706.19 123.93 710.14 L127.96 716.95 Z" fill="#90d66d" stroke="#65bb48" stroke-width="0.8" stroke-linejoin="round"/>
<path d="M122.63 716.75 L119.76 711.9" stroke="#afe191" stroke-width="4.1" stroke-linecap="round" fill="none" opacity="0.75"/>
<path d="M128.75 716.34 L133.25 721.28 C136.5 724.86 143.37 719.3 140.36 715.99 L135.86 711.05 Z" fill="#91d66e" stroke="#67bc49" stroke-width="0.8" stroke-linejoin="round"/>
<path d="M134.4 715.95 L137.76 719.65" stroke="#afe192" stroke-width="3.99" stroke-linecap="round" fill="none" opacity="0.75"/>
<path d="M128.75 716.34 L125.89 710.98 C123.61 706.72 130.89 701.76 133 705.7 L135.86 711.05 Z" fill="#91d66e" stroke="#67bc49" stroke-width="0.8" stroke-linejoin="round"/>
<path d="M130.91 711.05 L128.7 706.91" stroke="#afe192" stroke-width="3.99" stroke-linecap="round" fill="none" opacity="0.75"/>
<path d="M136.65 710.49 L139.82 714.3 C142.84 717.93 149.77 712.8 146.98 709.45 L143.81 705.65 Z" fill="#92d76f" stroke="#68bd4b" stroke-width="0.8" stroke-linejoin="round"/>
<path d="M141.87 710 L144.51 713.17" stroke="#b0e193" stroke-width="3.89" stroke-linecap="round" fill="none" opacity="0.75"/>
<path d="M136.65 710.49 L134.43 705.84 C132.39 701.58 139.71 697.06 141.58 700.99 L143.81 705.65 Z" fill="#92d76f" stroke="#68bd4b" stroke-width="0.8" stroke-linejoin="round"/>
<path d="M139.09 705.64 L137.27 701.84" stroke="#b0e193" stroke-width="3.89" stroke-linecap="round" fill="none" opacity="0.75"/>
<path d="M144.61 705.13 L146.88 708.12 C149.3 711.3 156.33 706.63 154.09 703.7 L151.82 700.71 Z" fill="#93d770" stroke="#6abe4c" stroke-width="0.8" stroke-linejoin="round"/>
<path d="M149.45 704.5 L151.43 707.11" stroke="#b1e294" stroke-width="3.81" stroke-linecap="round" fill="none" opacity="0.75"/>
<path d="M144.61 705.13 L143.2 701.82 C141.71 698.3 149.04 694.15 150.42 697.4 L151.82 700.71 Z" fill="#93d770" stroke="#6abe4c" stroke-width="0.8" stroke-linejoin="round"/>
<path d="M147.44 701.07 L146.21 698.18" stroke="#b1e294" stroke-width="3.81" stroke-linecap="round" fill="none" opacity="0.75"/>
<path d="M152.62 700.24 L153.89 702.06 C155.23 704 162.4 699.83 161.16 698.04 L159.89 696.21 Z" fill="#94d871" stroke="#6bbf4d" stroke-width="0.8" stroke-linejoin="round"/>
<path d="M156.94 699.18 L158.04 700.77" stroke="#b2e295" stroke-width="3.74" stroke-linecap="round" fill="none" opacity="0.75"/>
<path d="M152.62 700.24 L151.87 698.22 C151.07 696.06 158.4 692.21 159.14 694.19 L159.89 696.21 Z" fill="#94d871" stroke="#6bbf4d" stroke-width="0.8" stroke-linejoin="round"/>
<path d="M155.84 697.08 L155.18 695.31" stroke="#b2e295" stroke-width="3.74" stroke-linecap="round" fill="none" opacity="0.75"/>
<path d="M63.5 790 Q105 725 160.3 696" stroke="#58ad40" stroke-width="1.4" fill="none" opacity="0.55" stroke-linecap="round"/>
<polygon points="61.94,812.59 64.55,812.7 67.17,812.86 69.8,813.07 72.42,813.32 75.04,813.63 77.67,813.98 80.32,814.02 82.98,814.1 85.66,814.24 88.36,814.42 91.07,814.65 93.79,814.93 96.54,815.26 99.29,815.63 102.06,816.06 104.86,816.49 107.68,816.95 110.51,817.47 113.36,818.04 116.23,818.66 119.11,819.33 122.03,819.97 124.98,820.64 127.95,821.37 130.94,822.15 133.94,822.98 136.97,823.86 140.01,824.8 143.06,825.8 146.13,826.86 149.22,827.96 152.33,829.12 155.45,830.34 158.64,831.49 161.87,832.68 165.11,833.91 168.37,835.21 171.63,836.59 174.91,838.04 178.2,839.54 178.6,838.86 175.73,836.61 172.86,834.4 170,832.24 167.13,830.12 164.24,828.08 161.36,826.08 158.48,824.12 155.49,822.43 152.48,820.84 149.47,819.3 146.47,817.82 143.48,816.35 140.5,814.92 137.53,813.54 134.56,812.22 131.59,810.94 128.57,809.84 125.57,808.79 122.57,807.8 119.58,806.86 116.59,805.96 113.61,805.12 110.64,804.3 107.68,803.53 104.73,802.8 101.78,802.13 98.76,801.94 95.76,801.79 92.79,801.7 89.83,801.66 86.89,801.67 83.97,801.74 81.07,801.86 78.2,802.03 75.35,802.03 72.51,802.08 69.68,802.19 66.87,802.34 64.07,802.55 61.29,802.81" fill="#68bf4c"/>
<path d="M62.26 805.95 L63.38 819.76 C63.75 824.28 72.03 823.66 71.69 819.49 L70.56 805.68 Z" fill="#5fbd3f" stroke="#40a02a" stroke-width="0.8" stroke-linejoin="round"/>
<path d="M67.04 810.94 L67.72 819.23" stroke="#80d15f" stroke-width="3.74" stroke-linecap="round" fill="none" opacity="0.75"/>
<path d="M62.26 805.95 L63.02 801.39 C63.77 796.92 72.02 796.99 71.33 801.12 L70.56 805.68 Z" fill="#5fbd3f" stroke="#40a02a" stroke-width="0.8" stroke-linejoin="round"/>
<path d="M67.03 803.35 L67.67 799.51" stroke="#80d15f" stroke-width="3.74" stroke-linecap="round" fill="none" opacity="0.75"/>
<path d="M71.61 805.68 L72 822.7 C72.1 826.74 79.48 826.62 79.39 822.9 L79 805.87 Z" fill="#63c044" stroke="#44a22d" stroke-width="0.8" stroke-linejoin="round"/>
<path d="M75.49 811.77 L75.71 821.43" stroke="#85d364" stroke-width="3.33" stroke-linecap="round" fill="none" opacity="0.75"/>
<path d="M71.61 805.68 L72.87 800.14 C73.77 796.21 81.09 796.71 80.26 800.34 L79 805.87 Z" fill="#63c044" stroke="#44a22d" stroke-width="0.8" stroke-linejoin="round"/>
<path d="M75.93 803.16 L76.87 799.05" stroke="#85d364" stroke-width="3.33" stroke-linecap="round" fill="none" opacity="0.75"/>
<path d="M79.98 805.93 L79.48 822.9 C79.37 826.78 86.46 827.05 86.57 823.47 L87.07 806.49 Z" fill="#68c248" stroke="#47a530" stroke-width="0.8" stroke-linejoin="round"/>
<path d="M83.37 812.16 L83.09 821.74" stroke="#88d469" stroke-width="3.2" stroke-linecap="round" fill="none" opacity="0.75"/>
<path d="M79.98 805.93 L82.15 798.29 C83.21 794.56 90.21 795.4 89.23 798.85 L87.07 806.49 Z" fill="#68c248" stroke="#47a530" stroke-width="0.8" stroke-linejoin="round"/>
<path d="M84.44 803.02 L85.87 797.97" stroke="#88d469" stroke-width="3.2" stroke-linecap="round" fill="none" opacity="0.75"/>
<path d="M88.02 806.59 L86.83 821.75 C86.53 825.54 93.47 826.14 93.75 822.64 L94.94 807.48 Z" fill="#6cc44d" stroke="#4aa733" stroke-width="0.8" stroke-linejoin="round"/>
<path d="M91.07 812.42 L90.39 821.1" stroke="#8cd56e" stroke-width="3.14" stroke-linecap="round" fill="none" opacity="0.75"/>
<path d="M88.02 806.59 L91.37 796.66 C92.59 793.05 99.42 794.22 98.29 797.55 L94.94 807.48 Z" fill="#6cc44d" stroke="#4aa733" stroke-width="0.8" stroke-linejoin="round"/>
<path d="M92.78 803.19 L94.84 797.09" stroke="#8cd56e" stroke-width="3.14" stroke-linecap="round" fill="none" opacity="0.75"/>
<path d="M95.87 807.62 L94.07 822.02 C93.6 825.76 100.45 826.68 100.88 823.22 L102.68 808.82 Z" fill="#70c551" stroke="#4eaa36" stroke-width="0.8" stroke-linejoin="round"/>
<path d="M98.64 813.37 L97.6 821.67" stroke="#90d772" stroke-width="3.11" stroke-linecap="round" fill="none" opacity="0.75"/>
<path d="M95.87 807.62 L100.45 795.89 C101.82 792.37 108.52 793.84 107.26 797.09 L102.68 808.82 Z" fill="#70c551" stroke="#4eaa36" stroke-width="0.8" stroke-linejoin="round"/>
<path d="M100.98 803.86 L103.68 796.93" stroke="#90d772" stroke-width="3.11" stroke-linecap="round" fill="none" opacity="0.75"/>
<path d="M103.61 809.01 L101.31 822.58 C100.68 826.3 107.46 827.5 108.04 824.08 L110.34 810.5 Z" fill="#74c755" stroke="#51ac39" stroke-width="0.8" stroke-linejoin="round"/>
<path d="M106.15 814.65 L104.81 822.54" stroke="#93d877" stroke-width="3.11" stroke-linecap="round" fill="none" opacity="0.75"/>
<path d="M103.61 809.01 L108.36 798.22 C109.88 794.77 116.5 796.53 115.1 799.71 L110.34 810.5 Z" fill="#74c755" stroke="#51ac39" stroke-width="0.8" stroke-linejoin="round"/>
<path d="M108.76 805.69 L111.61 799.24" stroke="#93d877" stroke-width="3.11" stroke-linecap="round" fill="none" opacity="0.75"/>
<path d="M111.26 810.72 L108.47 823.85 C107.69 827.55 114.43 829.04 115.16 825.63 L117.94 812.49 Z" fill="#77c959" stroke="#54ae3c" stroke-width="0.8" stroke-linejoin="round"/>
<path d="M113.59 816.37 L111.96 824.04" stroke="#96d97b" stroke-width="3.11" stroke-linecap="round" fill="none" opacity="0.75"/>
<path d="M111.26 810.72 L116.79 799.47 C118.45 796.08 125.01 798.11 123.47 801.24 L117.94 812.49 Z" fill="#77c959" stroke="#54ae3c" stroke-width="0.8" stroke-linejoin="round"/>
<path d="M116.65 807.42 L119.92 800.76" stroke="#96d97b" stroke-width="3.11" stroke-linecap="round" fill="none" opacity="0.75"/>
<path d="M118.85 812.75 L115.97 824.12 C115.04 827.8 121.76 829.56 122.62 826.16 L125.5 814.79 Z" fill="#7bcb5d" stroke="#57b03f" stroke-width="0.8" stroke-linejoin="round"/>
<path d="M121.1 818 L119.37 824.82" stroke="#9adb7f" stroke-width="3.13" stroke-linecap="round" fill="none" opacity="0.75"/>
<path d="M118.85 812.75 L124.1 803.05 C125.9 799.71 132.41 802.01 130.74 805.09 L125.5 814.79 Z" fill="#7bcb5d" stroke="#57b03f" stroke-width="0.8" stroke-linejoin="round"/>
<path d="M124.17 810.06 L127.35 804.17" stroke="#9adb7f" stroke-width="3.13" stroke-linecap="round" fill="none" opacity="0.75"/>
<path d="M126.41 815.09 L123.34 825.54 C122.27 829.21 128.97 831.24 129.96 827.84 L133.03 817.4 Z" fill="#7fcd61" stroke="#5ab241" stroke-width="0.8" stroke-linejoin="round"/>
<path d="M128.55 820.2 L126.68 826.57" stroke="#9ddc84" stroke-width="3.16" stroke-linecap="round" fill="none" opacity="0.75"/>
<path d="M126.41 815.09 L132.4 804.92 C134.34 801.62 140.82 804.18 139.02 807.22 L133.03 817.4 Z" fill="#7fcd61" stroke="#5ab241" stroke-width="0.8" stroke-linejoin="round"/>
<path d="M131.97 812.4 L135.56 806.3" stroke="#9ddc84" stroke-width="3.16" stroke-linecap="round" fill="none" opacity="0.75"/>
<path d="M133.93 817.73 L131.08 826.33 C129.86 830 136.55 832.28 137.68 828.89 L140.53 820.29 Z" fill="#82cf65" stroke="#5cb544" stroke-width="0.8" stroke-linejoin="round"/>
<path d="M136.09 822.41 L134.28 827.89" stroke="#a0dd88" stroke-width="3.19" stroke-linecap="round" fill="none" opacity="0.75"/>
<path d="M133.93 817.73 L139.07 809.67 C141.14 806.41 147.59 809.22 145.67 812.23 L140.53 820.29 Z" fill="#82cf65" stroke="#5cb544" stroke-width="0.8" stroke-linejoin="round"/>
<path d="M139.25 815.81 L142.49 810.74" stroke="#a0dd88" stroke-width="3.19" stroke-linecap="round" fill="none" opacity="0.75"/>
<path d="M141.43 820.66 L138.71 828.04 C137.35 831.71 144.05 834.24 145.3 830.85 L148.02 823.47 Z" fill="#86d069" stroke="#5fb746" stroke-width="0.8" stroke-linejoin="round"/>
<path d="M143.6 825.1 L141.79 830" stroke="#a4df8c" stroke-width="3.22" stroke-linecap="round" fill="none" opacity="0.75"/>
<path d="M141.43 820.66 L145.83 814.24 C148.04 811.01 154.46 814.08 152.42 817.06 L148.02 823.47 Z" fill="#86d069" stroke="#5fb746" stroke-width="0.8" stroke-linejoin="round"/>
<path d="M146.56 819.37 L149.48 815.1" stroke="#a4df8c" stroke-width="3.22" stroke-linecap="round" fill="none" opacity="0.75"/>
<path d="M148.92 823.87 L146.66 829.45 C145.17 833.13 151.87 835.9 153.24 832.51 L155.51 826.93 Z" fill="#8ad26d" stroke="#62b949" stroke-width="0.8" stroke-linejoin="round"/>
<path d="M151.19 827.9 L149.56 831.93" stroke="#a7e090" stroke-width="3.27" stroke-linecap="round" fill="none" opacity="0.75"/>
<path d="M148.92 823.87 L153.08 818.19 C155.43 814.99 161.83 818.29 159.67 821.25 L155.51 826.93 Z" fill="#8ad26d" stroke="#62b949" stroke-width="0.8" stroke-linejoin="round"/>
<path d="M154 822.93 L156.87 819.02" stroke="#a7e090" stroke-width="3.27" stroke-linecap="round" fill="none" opacity="0.75"/>
<path d="M156.4 827.36 L154.95 830.66 C153.41 834.16 160.11 837.19 161.54 833.96 L162.99 830.66 Z" fill="#8dd471" stroke="#65bb4c" stroke-width="0.8" stroke-linejoin="round"/>
<path d="M158.9 830.78 L157.64 833.66" stroke="#aae194" stroke-width="3.31" stroke-linecap="round" fill="none" opacity="0.75"/>
<path d="M156.4 827.36 L159.45 823.45 C161.92 820.28 168.32 823.83 166.03 826.75 L162.99 830.66 Z" fill="#8dd471" stroke="#65bb4c" stroke-width="0.8" stroke-linejoin="round"/>
<path d="M161.18 827.08 L163.56 824.03" stroke="#aae194" stroke-width="3.31" stroke-linecap="round" fill="none" opacity="0.75"/>
<path d="M163.88 831.13 L162.88 833.24 C161.82 835.48 168.48 838.84 169.47 836.77 L170.47 834.67 Z" fill="#91d574" stroke="#68bd4e" stroke-width="0.8" stroke-linejoin="round"/>
<path d="M166.63 834.02 L165.76 835.86" stroke="#ade298" stroke-width="3.36" stroke-linecap="round" fill="none" opacity="0.75"/>
<path d="M163.88 831.13 L165.89 828.7 C168.03 826.11 174.45 829.85 172.47 832.24 L170.47 834.67 Z" fill="#91d574" stroke="#68bd4e" stroke-width="0.8" stroke-linejoin="round"/>
<path d="M168.27 831.55 L170.02 829.42" stroke="#ade298" stroke-width="3.36" stroke-linecap="round" fill="none" opacity="0.75"/>
<path d="M171.36 835.16 L170.87 836.14 C170.34 837.18 176.97 840.87 177.45 839.91 L177.95 838.94 Z" fill="#94d778" stroke="#6bbf51" stroke-width="0.8" stroke-linejoin="round"/>
<path d="M174.39 837.56 L173.95 838.41" stroke="#b0e39c" stroke-width="3.42" stroke-linecap="round" fill="none" opacity="0.75"/>
<path d="M171.36 835.16 L172.28 834.12 C173.25 833 179.76 836.86 178.86 837.89 L177.95 838.94 Z" fill="#94d778" stroke="#6bbf51" stroke-width="0.8" stroke-linejoin="round"/>
<path d="M175.16 836.45 L175.95 835.54" stroke="#b0e39c" stroke-width="3.42" stroke-linecap="round" fill="none" opacity="0.75"/>
<path d="M61.5 806 Q116 802.4 178.4 839.2" stroke="#449c2e" stroke-width="1.4" fill="none" opacity="0.55" stroke-linecap="round"/>
<path d="M170 831 L180.6 840.4 L168.5 836.5 Z" fill="#9cda82"/>
</g>
</svg>
</body></html>
